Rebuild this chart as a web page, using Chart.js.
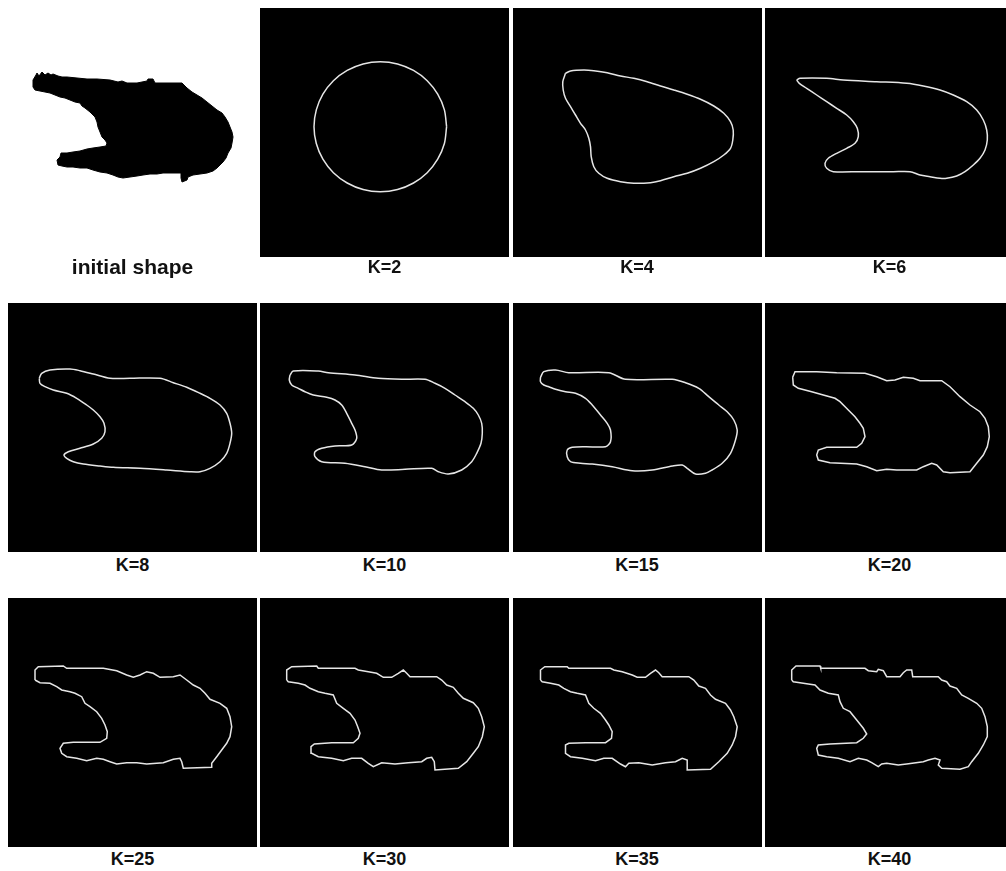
<!DOCTYPE html>
<html>
<head>
<meta charset="utf-8">
<script src="https://cdn.jsdelivr.net/npm/chart.js@4.4.1/dist/chart.umd.min.js"></script>
<style>
  body { margin: 0; width: 1006px; height: 871px; overflow: hidden; position: relative; background: #fff;
         font-family: 'Liberation Sans', Arial, Helvetica, sans-serif; }
  .panel { position: absolute; width: 249px; height: 249px; overflow: hidden; }
  .panel canvas { display: block; }
  .label { position: absolute; width: 249px; text-align: center; font-weight: bold; font-size: 18px; line-height: 20px; color: #111; }
</style>
</head>
<body>
<script>
// contour points per panel, in panel pixels (x right, y down, panel is 249 x 249)
const initialShape = [[25,72],[28,67],[29,65],[31,68],[34,64],[37,67],[40,65],[43,67],[45,66],[50,68],[54,69],[59,69],[69,70],[79,71],[89,71],[102,72],[110,74],[114,73],[119,75],[129,75],[134,74],[139,73],[140,71],[145,71],[147,75],[152,75],[165,75],[174,75],[176,77],[179,80],[184,84],[189,87],[194,90],[199,94],[204,98],[209,102],[214,105],[217,109],[220,114],[222,119],[224,124],[225,129],[224,135],[223,140],[220,145],[218,150],[215,154],[212,157],[209,160],[205,163],[202,164],[199,165],[192,166],[185,167],[180,169],[179,172],[174,174],[173,170],[173,165],[169,165],[162,165],[155,165],[149,166],[142,166],[135,167],[129,168],[122,169],[115,170],[110,169],[105,167],[99,165],[92,164],[85,162],[79,160],[72,160],[65,159],[59,159],[54,158],[50,157],[49,152],[52,149],[53,145],[59,145],[65,144],[72,143],[79,141],[85,140],[92,139],[98,138],[99,135],[97,132],[94,129],[92,124],[90,119],[89,114],[87,109],[82,104],[77,100],[74,98],[72,95],[67,94],[62,92],[57,90],[52,89],[47,87],[42,85],[37,84],[32,83],[27,82],[25,79],[25,72]];

const k2 = [[186.6,118.7],[184.4,135.5],[177.7,151.2],[167.2,164.7],[153.5,175],[137.5,181.5],[120.3,183.7],[103.1,181.5],[87.2,175],[73.4,164.7],[62.9,151.2],[56.3,135.5],[54,118.7],[56.3,101.9],[62.9,86.2],[73.4,72.7],[87.2,62.4],[103.1,55.9],[120.3,53.7],[137.5,55.9],[153.5,62.4],[167.2,72.7],[177.7,86.2],[184.4,101.9],[186.6,118.7]];

const k4 = [[52.5,65.3],[57.5,63],[70.8,62],[80.8,62.7],[94.2,64.7],[107.5,68],[120.8,70.3],[134.2,73.7],[147.5,78],[160.8,82],[174.2,86.3],[187.5,91.3],[200.8,98],[210.8,105.3],[217.5,113.7],[220.2,122],[219.8,132],[217.5,140.3],[210.8,147],[200.8,153.7],[187.5,160.3],[174.2,165.3],[160.8,168.7],[147.5,172.7],[137.5,174.7],[120.8,175.3],[107.5,173.7],[94.2,170.3],[85.8,165.3],[80.8,158.7],[78.2,148.7],[77.5,138.7],[75.8,130.3],[72.5,122],[67.5,115.3],[62.5,107],[57.5,98.7],[52.5,90.3],[50.2,82],[49.8,73.7],[52.5,65.3]];

const k6 = [[31.7,72],[35,70.3],[61.7,70.3],[78.3,72],[111.7,73.7],[141.7,75.3],[158.3,78],[175,82],[188.3,87],[201.7,93.7],[211.7,102],[218.3,112],[221.7,122],[222.3,132],[220,142],[215,150.3],[208.3,157],[200,163.7],[191.7,168],[181.7,170.3],[175,170.3],[165,168.7],[155,167],[145,163.7],[128.3,163.7],[95,163.7],[68.3,163.7],[61.7,160.3],[60,155.3],[63.3,150.3],[71.7,145.3],[81.7,140.3],[90,135.3],[93.3,128.7],[92.3,120.3],[88.3,113.7],[81.7,107],[71.7,100.3],[61.7,93.7],[51.7,87],[41.7,80.3],[34.3,75.3],[31.7,72]];

const k8 = [[31.3,75.3],[33.7,70.3],[42,67],[62,66],[72,67.7],[85.3,71],[102,75.3],[122,75.3],[152,75.3],[165.3,79.7],[178.7,84.3],[192,90.3],[202,95.3],[212,102],[218.7,110.3],[222,120.3],[223.7,130.3],[222,140.3],[218.7,150.3],[212,158.7],[202,165.3],[192,168.7],[182,168.7],[158.7,167],[132,165.3],[105.3,164.3],[92,163],[75.3,161],[65.3,158.7],[58.7,155.3],[56,152],[60.3,148.7],[72,145.3],[85.3,141],[93.7,135.3],[97,128.7],[96,120.3],[92,113.7],[85.3,107],[78.7,102],[68.7,95.3],[58.7,90.3],[45.3,87],[37,83.7],[32,80.3],[31.3,75.3]];

const k10 = [[30,72],[33.3,68],[58.3,68],[68.3,69.7],[95,72],[118.3,75.3],[141.7,76.3],[165,76.3],[175,80.3],[185,85.3],[195,92],[205,98.7],[213.3,105.3],[218.3,112],[221.7,120.3],[222.3,130.3],[221,140.3],[216.7,150.3],[211.7,158.7],[201.7,167],[188.3,171],[178.3,168.7],[171.7,165.3],[145,166.3],[121.7,167],[105,163.7],[85,160.3],[61.7,158.7],[55,153.7],[55,148.7],[61.7,145.3],[75,143],[91.7,142],[96.7,135.3],[95,127],[91.7,120.3],[86.7,110.3],[81.7,102],[75,97],[66.7,94.3],[53.3,92],[45,88.7],[38.3,85.3],[31.7,82],[29.3,77],[30,72]];

const k15 = [[27.5,74.3],[30.8,68.7],[42.5,67],[55.8,69.7],[95.8,69.7],[112.5,76.3],[159.2,76.3],[172.5,79.7],[185.8,85.3],[195.8,93.7],[205.8,102],[214.2,108.7],[220.8,117],[224.2,127],[222.5,137],[217.5,150.3],[209.2,160.3],[199.2,167],[192.5,170.3],[182.5,171],[174.2,165.3],[169.2,162],[159.2,163],[139.2,167],[119.2,167.7],[99.2,163.7],[79.2,161],[67.5,160.3],[57.5,158.7],[54.2,153.7],[54.2,147],[59.2,144.3],[72.5,143.7],[92.5,143.7],[97.5,138.7],[97.5,127],[94.2,120.3],[87.5,112],[79.2,102],[72.5,95.3],[62.5,90.3],[52.5,88.7],[42.5,86.3],[35.8,83.7],[30.8,82],[27.5,78.7],[27.5,74.3]];

const k20 = [[27.7,74.3],[30,68.7],[51.7,68.7],[71.7,69.7],[100,70.3],[111.7,73.7],[121.7,77.7],[130,77],[138.3,74.3],[148.3,75.3],[155,77.7],[176.7,77.7],[185,83.7],[195,93.7],[205,102],[215,108.7],[220,115.3],[223.3,123.7],[224.3,133.7],[222.3,143.7],[218.3,152],[211.7,160.3],[205,168.7],[185,169.7],[178.3,168.7],[171.7,162],[166.7,160.3],[158.3,163.7],[151.7,167],[131.7,167],[121.7,166.3],[111.7,167.7],[101.7,163.7],[91.7,161],[65,159.7],[53.3,157],[51.7,152],[53.3,147],[61.7,144.3],[91.7,144.3],[96.7,140.3],[100,133.7],[98.3,125.3],[95,120.3],[90,113.7],[83.3,107],[75,98.7],[70,95.3],[58.3,92],[46.7,88.7],[33.3,85.3],[28.3,82],[27.7,74.3]];

const k25 = [[27,82],[27,72],[30.3,68.7],[55.3,68],[58.7,70.3],[95.3,70.3],[108.7,72.7],[118.7,77],[125.3,79.3],[132,77],[138.7,73.7],[145.3,75.3],[152,79.3],[165.3,78.7],[172,77],[178.7,82],[185.3,87],[192,90.3],[197,95.3],[202,101.3],[212,105.3],[218.7,110.3],[222,118.7],[223.7,128.7],[222,138.7],[218.7,145.3],[213.7,152],[208.7,158.7],[203.7,165.3],[203.7,169.3],[175.3,170.3],[173.7,163.7],[172,160.3],[165.3,161.3],[155.3,164.7],[138.7,166],[128.7,164.7],[118.7,164.7],[108.7,166],[102,163.7],[95.3,161.3],[88.7,160.3],[78.7,162.7],[68.7,160.3],[58.7,158.7],[53.7,155.3],[52,150.3],[55.3,145.3],[65.3,144.3],[92,144.3],[98.7,140.3],[99.3,133.7],[97,127],[93.7,120.3],[88.7,113.7],[82,108.7],[77,105.3],[73.7,98.7],[67,95.3],[62,93.7],[53.7,92],[48.7,88.7],[42,85.3],[32,84.7],[27,82]];

const k30 = [[26.7,82],[26.7,72],[31.7,68.7],[56.7,68],[58.3,70.3],[95,70.3],[98.3,72],[108.3,73.7],[116.7,75.3],[123.3,79.3],[131.7,79.3],[138.3,75.3],[143.3,72],[146.7,75.3],[150,78.7],[176.7,78.7],[181.7,82],[186.7,87],[193.3,89.3],[198.3,95.3],[203.3,100.3],[213.3,104.7],[218.3,110.3],[221.7,118.7],[224.3,128.7],[222.3,138.7],[218.3,148.7],[213.3,155.3],[206.7,163.7],[198.3,170.3],[175,172],[174.3,163.7],[171.7,159.3],[166.7,160.3],[161.7,163.7],[148.3,164.7],[135,166],[121.7,164.7],[113.3,168.7],[108.3,165.3],[101.7,160.3],[91.7,160.3],[83.3,162.7],[71.7,160.3],[58.3,158.7],[51.7,155.3],[51,148.7],[54.3,146],[71.7,144.7],[93.3,144.7],[98.3,140.3],[100,135.3],[97.7,128.7],[95,122],[90,115.3],[83.3,110.3],[76.7,105.3],[73.3,97],[65,95.3],[58.3,93.7],[50,90.3],[45,87],[38.3,85.3],[28.3,83.7],[26.7,82]];

const k35 = [[27.5,82],[27.5,72],[31.8,68.7],[54.2,68.7],[55.8,70.3],[97.5,70.3],[100.8,72],[109.2,73.7],[119.2,77],[124.2,79.3],[132.5,79.3],[137.5,75.3],[142.5,72],[145.8,74.7],[149.2,78.7],[175.8,78.7],[180.8,82],[185.8,88],[192.5,90.3],[197.5,97],[202.5,101.3],[212.5,105.3],[217.5,112],[220.8,118.7],[224.2,128.7],[222.5,138.7],[219.2,147],[214.2,155.3],[205.8,163.7],[197.5,171.3],[174.2,172],[174.2,162],[169.2,160.3],[162.5,163.7],[152.5,164.7],[139.2,167],[125.8,164.7],[115.8,165.3],[112.5,168.7],[107.5,166],[99.2,160.3],[90.8,160.3],[82.5,162.7],[69.2,160.3],[57.5,158.7],[52.5,155.3],[52.5,147],[55.8,145.3],[72.5,144.7],[92.5,144.7],[98.5,140.3],[99.2,133.7],[95.8,127],[92.5,122],[87.5,115.3],[80.8,110.3],[75.8,105.3],[72.5,97],[64.2,95.3],[57.5,93.7],[50.8,90.3],[45.8,87],[37.5,85.3],[29.2,83.7],[27.5,82]];

const k40 = [[26.7,82],[26.7,72],[31,68],[55,68],[55.7,70.3],[100,70.3],[103.3,72.7],[111.7,73.7],[113.3,71.3],[118.3,72.7],[121.7,78.7],[135,78.7],[138.3,74.7],[141.7,72],[146.7,72],[147.7,78.7],[173.3,78.7],[176.7,82],[181.7,83.7],[185,88],[191.7,90.3],[196.7,97],[203.3,100.3],[211.7,105.3],[216.7,110.3],[220,118.7],[222.3,128.7],[222.3,138.7],[218.3,147],[213.3,155.3],[206.7,163.7],[203.3,168.7],[195,171.3],[176.7,170.3],[173.3,167],[175,162],[170,160.3],[163.3,162],[158.3,163.7],[141.7,166],[133.3,167],[121.7,165.3],[116.7,166],[113.3,168.7],[106.7,164.7],[101.7,162],[93.3,160.3],[85,163.7],[73.3,160.3],[61.7,158.7],[53.3,157],[51.7,150.3],[53.3,147],[65,146],[91.7,144.7],[98.3,140.3],[101.7,136],[98.3,130.3],[91.7,122],[85,113.7],[78.3,110.3],[75,103.7],[73.3,97],[63.3,95.3],[55,92],[50,87],[43.3,86],[35,84.7],[28.3,83.7],[26.7,82]];

const panelLabels = ['initial shape', 'K=2', 'K=4', 'K=6', 'K=8', 'K=10', 'K=15', 'K=20', 'K=25', 'K=30', 'K=35', 'K=40'];
const contours = [initialShape, k2, k4, k6, k8, k10, k15, k20, k25, k30, k35, k40];

// grid layout (left edges of the columns, top edges of the rows)
const colX = [8, 260, 512.5, 765];
const rowY = [8, 303, 598];
const labelGap = [10, 13, 12];

contours.forEach((pts, i) => {
  const col = i % 4, row = Math.floor(i / 4);
  const first = i === 0;

  const box = document.createElement('div');
  box.className = 'panel';
  box.style.left = colX[col] + 'px';
  box.style.top = rowY[row] + 'px';
  box.style.background = first ? '#fff' : '#000';
  const canvas = document.createElement('canvas');
  canvas.width = 249;
  canvas.height = 249;
  box.appendChild(canvas);
  document.body.appendChild(box);

  const lbl = document.createElement('div');
  lbl.className = 'label';
  lbl.style.left = colX[col] + 'px';
  lbl.style.top = (rowY[row] + 249 + labelGap[row] - 10) + 'px';
  if (first) lbl.style.fontSize = '21px';
  lbl.innerText = panelLabels[i];
  document.body.appendChild(lbl);

  new Chart(canvas.getContext('2d'), {
    type: 'scatter',
    data: {
      datasets: [{
        data: pts.map(p => ({ x: p[0], y: p[1] })),
        showLine: true,
        borderColor: first ? '#000' : '#e6e6e6',
        backgroundColor: '#000',
        borderWidth: first ? 1 : 1.5,
        fill: first ? 'shape' : false,
        tension: i >= 1 && i <= 6 ? 0.3 : 0,
        pointRadius: 0
      }]
    },
    options: {
      responsive: false,
      animation: false,
      layout: { padding: 0 },
      scales: {
        x: { type: 'linear', min: 0, max: 249, display: false },
        y: { type: 'linear', min: 0, max: 249, reverse: true, display: false }
      },
      plugins: { legend: { display: false }, tooltip: { enabled: false } }
    }
  });
});
</script>
</body>
</html>
